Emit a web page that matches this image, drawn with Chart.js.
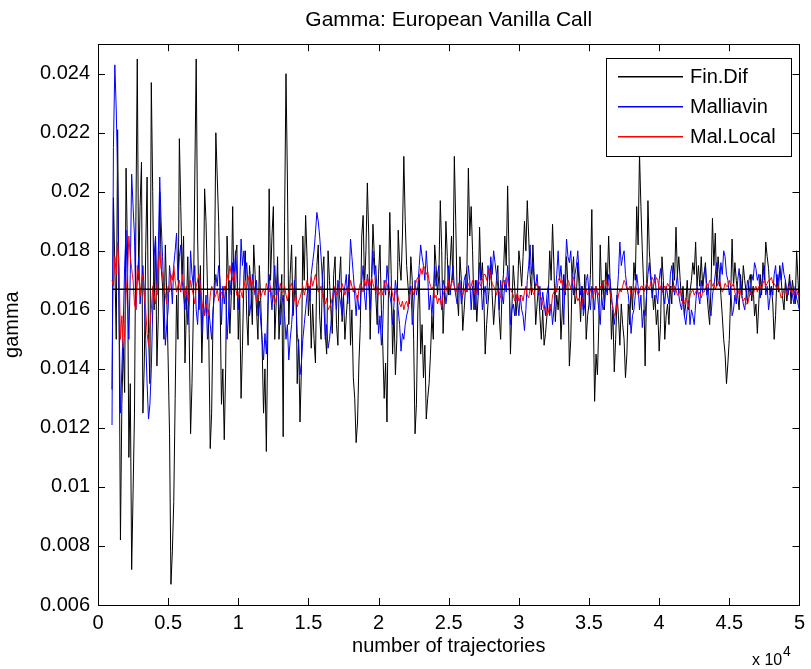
<!DOCTYPE html>
<html>
<head>
<meta charset="utf-8">
<title>Gamma: European Vanilla Call</title>
<script src="https://cdn.jsdelivr.net/npm/chart.js@4.4.1/dist/chart.umd.min.js"></script>
<style>
  html, body { margin: 0; padding: 0; background: #fff; }
  #wrap { width: 811px; height: 669px; }
</style>
</head>
<body>
<div id="wrap"><canvas id="gamma-chart" width="811" height="669"></canvas></div>
<script>
// sampling grid: number of trajectories
const trajStart = 1000;
const trajStep = 100;
const xTickStep = 5000;   // 0.5 x 10^4
const yTickStep = 0.002;
const exactGamma = 0.0167;
const seriesNames = ["Fin.Dif", "Malliavin", "Mal.Local"];
const seriesColors = ["#000000", "#0000ff", "#ff0000"];

const finDif = [
  0.0133,0.0198,0.0175,0.0150,0.0221,0.0160,0.0082,0.0128,0.0148,0.0132,0.0208,0.0180,0.0110,0.0135,0.0072,0.0098,0.0125,0.0190,0.0245,0.0170,
  0.0195,0.0210,0.0125,0.0142,0.0180,0.0205,0.0152,0.0135,0.0237,0.0200,0.0160,0.0185,0.0141,0.0158,0.0200,0.0175,0.0168,0.0150,0.0182,0.0165,
  0.0143,0.0118,0.0067,0.0078,0.0095,0.0130,0.0165,0.0150,0.0218,0.0195,0.0172,0.0185,0.0142,0.0160,0.0178,0.0152,0.0118,0.0135,0.0160,0.0205,
  0.0245,0.0185,0.0160,0.0175,0.0142,0.0160,0.0201,0.0190,0.0168,0.0150,0.0113,0.0125,0.0158,0.0170,0.0220,0.0205,0.0190,0.0165,0.0128,0.0140,
  0.0116,0.0140,0.0185,0.0170,0.0152,0.0165,0.0195,0.0160,0.0178,0.0182,0.0150,0.0165,0.0130,0.0148,0.0172,0.0180,0.0158,0.0148,0.0175,0.0168,
  0.0155,0.0182,0.0172,0.0160,0.0150,0.0175,0.0163,0.0148,0.0125,0.0140,0.0112,0.0150,0.0201,0.0170,0.0185,0.0195,0.0150,0.0162,0.0178,0.0150,
  0.0160,0.0172,0.0117,0.0190,0.0240,0.0205,0.0155,0.0172,0.0182,0.0158,0.0165,0.0178,0.0135,0.0150,0.0122,0.0140,0.0185,0.0170,0.0192,0.0178,
  0.0158,0.0168,0.0147,0.0162,0.0150,0.0142,0.0175,0.0182,0.0158,0.0150,0.0172,0.0178,0.0152,0.0145,0.0180,0.0170,0.0160,0.0152,0.0172,0.0178,
  0.0155,0.0148,0.0170,0.0178,0.0156,0.0165,0.0150,0.0158,0.0165,0.0172,0.0148,0.0160,0.0137,0.0130,0.0115,0.0122,0.0142,0.0155,0.0185,0.0192,
  0.0168,0.0180,0.0203,0.0185,0.0150,0.0170,0.0189,0.0178,0.0165,0.0155,0.0172,0.0182,0.0160,0.0148,0.0130,0.0142,0.0122,0.0165,0.0193,0.0172,
  0.0145,0.0160,0.0138,0.0150,0.0187,0.0176,0.0170,0.0185,0.0212,0.0190,0.0175,0.0168,0.0162,0.0178,0.0170,0.0150,0.0118,0.0128,0.0160,0.0172,
  0.0145,0.0155,0.0137,0.0148,0.0123,0.0130,0.0135,0.0145,0.0158,0.0150,0.0182,0.0175,0.0165,0.0172,0.0197,0.0180,0.0152,0.0165,0.0190,0.0178,
  0.0165,0.0175,0.0185,0.0170,0.0212,0.0190,0.0165,0.0158,0.0178,0.0170,0.0153,0.0160,0.0168,0.0175,0.0208,0.0185,0.0195,0.0180,0.0160,0.0170,
  0.0156,0.0165,0.0188,0.0170,0.0176,0.0165,0.0145,0.0155,0.0162,0.0168,0.0175,0.0165,0.0155,0.0162,0.0170,0.0175,0.0158,0.0150,0.0166,0.0172,
  0.0185,0.0175,0.0202,0.0178,0.0145,0.0160,0.0175,0.0168,0.0158,0.0165,0.0180,0.0175,0.0168,0.0178,0.0190,0.0180,0.0197,0.0185,0.0172,0.0165,
  0.0182,0.0170,0.0155,0.0162,0.0168,0.0158,0.0150,0.0160,0.0148,0.0152,0.0158,0.0165,0.0180,0.0170,0.0189,0.0175,0.0156,0.0165,0.0160,0.0168,
  0.0150,0.0160,0.0172,0.0165,0.0178,0.0168,0.0141,0.0150,0.0172,0.0178,0.0162,0.0165,0.0176,0.0168,0.0156,0.0168,0.0160,0.0172,0.0150,0.0158,
  0.0162,0.0172,0.0194,0.0160,0.0129,0.0145,0.0138,0.0155,0.0182,0.0165,0.0170,0.0160,0.0176,0.0168,0.0185,0.0170,0.0150,0.0160,0.0139,0.0150,
  0.0165,0.0158,0.0148,0.0162,0.0155,0.0150,0.0137,0.0145,0.0162,0.0155,0.0168,0.0160,0.0176,0.0170,0.0195,0.0182,0.0213,0.0195,0.0180,0.0168,
  0.0141,0.0165,0.0197,0.0180,0.0172,0.0168,0.0160,0.0165,0.0155,0.0160,0.0146,0.0155,0.0178,0.0170,0.0150,0.0158,0.0162,0.0155,0.0168,0.0162,
  0.0176,0.0170,0.0188,0.0172,0.0178,0.0170,0.0163,0.0168,0.0158,0.0162,0.0170,0.0160,0.0166,0.0170,0.0176,0.0172,0.0183,0.0168,0.0175,0.0168,
  0.0178,0.0168,0.0172,0.0176,0.0166,0.0160,0.0155,0.0168,0.0191,0.0175,0.0186,0.0168,0.0178,0.0172,0.0165,0.0158,0.0150,0.0145,0.0135,0.0142,
  0.0150,0.0165,0.0184,0.0168,0.0176,0.0170,0.0165,0.0160,0.0172,0.0165,0.0175,0.0170,0.0166,0.0162,0.0170,0.0172,0.0163,0.0168,0.0158,0.0162,
  0.0152,0.0162,0.0172,0.0165,0.0176,0.0170,0.0183,0.0178,0.0174,0.0165,0.0168,0.0162,0.0150,0.0158,0.0172,0.0166,0.0175,0.0170,0.0164,0.0160,
  0.0170,0.0163,0.0167,0.0172,0.0162,0.0170,0.0166,0.0162,0.0180,0.0170,0.0160
];

const malliavin = [
  0.0121,0.0215,0.0243,0.0228,0.0205,0.0160,0.0125,0.0140,0.0155,0.0175,0.0187,0.0165,0.0150,0.0172,0.0206,0.0195,0.0185,0.0160,0.0170,0.0178,
  0.0162,0.0168,0.0175,0.0165,0.0150,0.0135,0.0123,0.0128,0.0140,0.0160,0.0178,0.0185,0.0165,0.0180,0.0205,0.0190,0.0178,0.0165,0.0148,0.0155,
  0.0160,0.0175,0.0170,0.0162,0.0175,0.0180,0.0186,0.0170,0.0178,0.0182,0.0170,0.0165,0.0160,0.0168,0.0155,0.0162,0.0180,0.0172,0.0168,0.0175,
  0.0160,0.0155,0.0165,0.0170,0.0152,0.0162,0.0158,0.0165,0.0150,0.0160,0.0155,0.0150,0.0160,0.0165,0.0172,0.0168,0.0175,0.0170,0.0155,0.0168,
  0.0162,0.0168,0.0150,0.0158,0.0170,0.0165,0.0176,0.0170,0.0180,0.0172,0.0160,0.0168,0.0184,0.0175,0.0180,0.0170,0.0176,0.0168,0.0158,0.0162,
  0.0172,0.0168,0.0165,0.0170,0.0158,0.0163,0.0156,0.0150,0.0143,0.0152,0.0145,0.0160,0.0172,0.0166,0.0160,0.0168,0.0175,0.0165,0.0172,0.0162,
  0.0155,0.0162,0.0165,0.0158,0.0150,0.0155,0.0143,0.0150,0.0155,0.0162,0.0170,0.0165,0.0152,0.0148,0.0138,0.0142,0.0150,0.0155,0.0160,0.0165,
  0.0168,0.0163,0.0172,0.0176,0.0180,0.0186,0.0193,0.0190,0.0185,0.0178,0.0170,0.0162,0.0150,0.0155,0.0147,0.0150,0.0155,0.0162,0.0168,0.0165,
  0.0160,0.0170,0.0165,0.0162,0.0158,0.0165,0.0168,0.0172,0.0162,0.0170,0.0184,0.0178,0.0172,0.0165,0.0158,0.0165,0.0160,0.0162,0.0170,0.0175,
  0.0165,0.0160,0.0172,0.0168,0.0160,0.0170,0.0180,0.0172,0.0175,0.0165,0.0152,0.0158,0.0148,0.0155,0.0170,0.0165,0.0175,0.0170,0.0165,0.0162,
  0.0155,0.0162,0.0170,0.0166,0.0160,0.0155,0.0146,0.0152,0.0150,0.0155,0.0158,0.0160,0.0165,0.0168,0.0155,0.0160,0.0170,0.0165,0.0168,0.0175,
  0.0182,0.0178,0.0175,0.0170,0.0180,0.0172,0.0160,0.0165,0.0158,0.0165,0.0175,0.0168,0.0172,0.0175,0.0165,0.0160,0.0170,0.0168,0.0162,0.0166,
  0.0175,0.0165,0.0170,0.0175,0.0168,0.0165,0.0162,0.0168,0.0170,0.0162,0.0165,0.0170,0.0172,0.0166,0.0175,0.0170,0.0160,0.0168,0.0165,0.0160,
  0.0170,0.0165,0.0176,0.0170,0.0160,0.0165,0.0168,0.0162,0.0175,0.0170,0.0178,0.0172,0.0180,0.0176,0.0172,0.0168,0.0160,0.0170,0.0165,0.0162,
  0.0170,0.0166,0.0175,0.0168,0.0155,0.0160,0.0162,0.0158,0.0165,0.0163,0.0158,0.0165,0.0160,0.0158,0.0153,0.0160,0.0170,0.0175,0.0182,0.0172,
  0.0176,0.0170,0.0168,0.0172,0.0165,0.0168,0.0160,0.0166,0.0162,0.0158,0.0165,0.0168,0.0158,0.0162,0.0155,0.0160,0.0165,0.0172,0.0180,0.0170,
  0.0175,0.0168,0.0155,0.0172,0.0184,0.0178,0.0176,0.0180,0.0170,0.0165,0.0172,0.0175,0.0180,0.0172,0.0165,0.0168,0.0158,0.0162,0.0170,0.0172,
  0.0165,0.0160,0.0168,0.0165,0.0160,0.0168,0.0165,0.0160,0.0155,0.0165,0.0160,0.0162,0.0168,0.0165,0.0172,0.0170,0.0165,0.0160,0.0155,0.0160,
  0.0165,0.0172,0.0183,0.0175,0.0178,0.0180,0.0172,0.0168,0.0165,0.0160,0.0152,0.0158,0.0160,0.0165,0.0172,0.0168,0.0160,0.0165,0.0154,0.0160,
  0.0158,0.0165,0.0172,0.0176,0.0170,0.0164,0.0168,0.0172,0.0165,0.0162,0.0170,0.0174,0.0168,0.0165,0.0162,0.0168,0.0165,0.0162,0.0172,0.0175,
  0.0170,0.0165,0.0168,0.0172,0.0165,0.0162,0.0160,0.0165,0.0158,0.0155,0.0160,0.0163,0.0155,0.0160,0.0158,0.0155,0.0162,0.0168,0.0165,0.0162,
  0.0170,0.0166,0.0172,0.0175,0.0165,0.0168,0.0160,0.0158,0.0165,0.0168,0.0172,0.0176,0.0170,0.0168,0.0176,0.0172,0.0180,0.0178,0.0172,0.0170,
  0.0165,0.0168,0.0158,0.0160,0.0165,0.0162,0.0170,0.0174,0.0168,0.0165,0.0162,0.0160,0.0165,0.0170,0.0168,0.0165,0.0172,0.0170,0.0176,0.0174,
  0.0170,0.0172,0.0164,0.0168,0.0172,0.0175,0.0165,0.0168,0.0160,0.0164,0.0168,0.0165,0.0172,0.0175,0.0168,0.0170,0.0174,0.0170,0.0176,0.0172,
  0.0170,0.0166,0.0165,0.0170,0.0168,0.0165,0.0162,0.0168,0.0164,0.0162,0.0160
];

const malLocal = [
  0.0170,0.0168,0.0178,0.0172,0.0183,0.0175,0.0150,0.0158,0.0147,0.0152,0.0165,0.0172,0.0185,0.0178,0.0174,0.0170,0.0162,0.0160,0.0175,0.0172,
  0.0165,0.0170,0.0172,0.0165,0.0160,0.0152,0.0148,0.0155,0.0160,0.0168,0.0165,0.0162,0.0168,0.0175,0.0180,0.0174,0.0172,0.0168,0.0165,0.0162,
  0.0168,0.0166,0.0172,0.0170,0.0175,0.0170,0.0166,0.0168,0.0170,0.0166,0.0172,0.0168,0.0165,0.0168,0.0163,0.0166,0.0170,0.0167,0.0165,0.0162,
  0.0168,0.0170,0.0172,0.0168,0.0163,0.0160,0.0158,0.0162,0.0160,0.0158,0.0165,0.0168,0.0167,0.0164,0.0165,0.0167,0.0163,0.0166,0.0166,0.0164,
  0.0168,0.0166,0.0172,0.0170,0.0175,0.0172,0.0170,0.0173,0.0168,0.0165,0.0164,0.0167,0.0166,0.0164,0.0170,0.0167,0.0168,0.0170,0.0172,0.0168,
  0.0170,0.0168,0.0166,0.0163,0.0165,0.0167,0.0164,0.0166,0.0167,0.0165,0.0169,0.0167,0.0166,0.0168,0.0164,0.0165,0.0162,0.0164,0.0166,0.0166,
  0.0169,0.0166,0.0166,0.0168,0.0165,0.0163,0.0166,0.0168,0.0169,0.0166,0.0163,0.0165,0.0161,0.0163,0.0164,0.0166,0.0168,0.0165,0.0167,0.0170,
  0.0168,0.0167,0.0171,0.0168,0.0170,0.0172,0.0169,0.0166,0.0167,0.0168,0.0165,0.0163,0.0162,0.0164,0.0160,0.0161,0.0162,0.0164,0.0166,0.0168,
  0.0165,0.0167,0.0168,0.0166,0.0169,0.0167,0.0165,0.0167,0.0168,0.0166,0.0170,0.0168,0.0166,0.0168,0.0165,0.0163,0.0167,0.0169,0.0168,0.0166,
  0.0170,0.0168,0.0171,0.0169,0.0168,0.0171,0.0169,0.0167,0.0166,0.0168,0.0165,0.0166,0.0167,0.0165,0.0168,0.0170,0.0169,0.0166,0.0167,0.0168,
  0.0165,0.0163,0.0166,0.0167,0.0164,0.0162,0.0161,0.0163,0.0160,0.0162,0.0163,0.0161,0.0165,0.0166,0.0167,0.0165,0.0168,0.0170,0.0171,0.0170,
  0.0174,0.0172,0.0175,0.0174,0.0172,0.0173,0.0170,0.0168,0.0167,0.0168,0.0164,0.0165,0.0162,0.0164,0.0163,0.0161,0.0165,0.0167,0.0168,0.0166,
  0.0170,0.0167,0.0169,0.0170,0.0168,0.0166,0.0167,0.0169,0.0168,0.0166,0.0165,0.0167,0.0166,0.0167,0.0169,0.0167,0.0168,0.0170,0.0166,0.0165,
  0.0167,0.0170,0.0169,0.0168,0.0170,0.0172,0.0172,0.0170,0.0173,0.0174,0.0171,0.0169,0.0168,0.0167,0.0165,0.0167,0.0166,0.0164,0.0168,0.0170,
  0.0169,0.0171,0.0170,0.0168,0.0167,0.0166,0.0165,0.0163,0.0164,0.0166,0.0163,0.0164,0.0165,0.0163,0.0166,0.0168,0.0165,0.0164,0.0167,0.0168,
  0.0166,0.0165,0.0168,0.0169,0.0167,0.0165,0.0164,0.0162,0.0160,0.0161,0.0158,0.0159,0.0162,0.0160,0.0165,0.0166,0.0168,0.0166,0.0170,0.0171,
  0.0169,0.0170,0.0167,0.0166,0.0168,0.0170,0.0169,0.0167,0.0170,0.0171,0.0168,0.0165,0.0163,0.0164,0.0161,0.0162,0.0165,0.0167,0.0167,0.0165,
  0.0166,0.0167,0.0165,0.0164,0.0167,0.0168,0.0166,0.0165,0.0168,0.0167,0.0169,0.0170,0.0170,0.0168,0.0169,0.0166,0.0163,0.0161,0.0158,0.0159,
  0.0162,0.0165,0.0167,0.0166,0.0168,0.0170,0.0169,0.0167,0.0167,0.0168,0.0165,0.0164,0.0166,0.0168,0.0167,0.0165,0.0166,0.0168,0.0168,0.0166,
  0.0167,0.0169,0.0168,0.0167,0.0169,0.0171,0.0170,0.0169,0.0171,0.0170,0.0167,0.0168,0.0166,0.0167,0.0168,0.0167,0.0169,0.0168,0.0167,0.0168,
  0.0166,0.0168,0.0167,0.0165,0.0165,0.0167,0.0164,0.0162,0.0162,0.0164,0.0163,0.0161,0.0165,0.0166,0.0167,0.0165,0.0166,0.0167,0.0165,0.0166,
  0.0164,0.0166,0.0166,0.0167,0.0169,0.0168,0.0170,0.0170,0.0168,0.0169,0.0167,0.0168,0.0169,0.0170,0.0168,0.0166,0.0167,0.0169,0.0168,0.0168,
  0.0170,0.0168,0.0168,0.0169,0.0166,0.0164,0.0165,0.0167,0.0166,0.0164,0.0163,0.0164,0.0162,0.0162,0.0164,0.0166,0.0165,0.0165,0.0167,0.0168,
  0.0166,0.0168,0.0168,0.0167,0.0169,0.0170,0.0168,0.0169,0.0170,0.0170,0.0171,0.0169,0.0169,0.0168,0.0167,0.0168,0.0166,0.0164,0.0165,0.0167,
  0.0167,0.0165,0.0168,0.0167,0.0166,0.0167,0.0165,0.0166,0.0167,0.0165,0.0166
];

const FONT = "'Liberation Sans', Arial, sans-serif";
const toPoints = arr => arr.map((v, i) => ({ x: trajStart + i * trajStep, y: v }));
const lastTraj = trajStart + (finDif.length - 1) * trajStep;

Chart.defaults.color = "#000";
Chart.defaults.font.family = FONT;
Chart.defaults.font.size = 20;

// MATLAB-like box, inward ticks, legend and exponent label
const matlabAxes = {
  id: "matlabAxes",
  afterDraw(chart) {
    const { ctx, chartArea: a, scales } = chart;
    const tl = 7;
    ctx.save();
    ctx.strokeStyle = "#000";
    ctx.lineWidth = 1;
    ctx.strokeRect(Math.round(a.left) + 0.5, Math.round(a.top) + 0.5, Math.round(a.right - a.left), Math.round(a.bottom - a.top));
    ctx.beginPath();
    scales.x.ticks.forEach(t => {
      const px = Math.round(scales.x.getPixelForValue(t.value)) + 0.5;
      ctx.moveTo(px, a.bottom); ctx.lineTo(px, a.bottom - tl);
      ctx.moveTo(px, a.top); ctx.lineTo(px, a.top + tl);
    });
    scales.y.ticks.forEach(t => {
      const py = Math.round(scales.y.getPixelForValue(t.value)) + 0.5;
      ctx.moveTo(a.left, py); ctx.lineTo(a.left + tl, py);
      ctx.moveTo(a.right, py); ctx.lineTo(a.right - tl, py);
    });
    ctx.stroke();

    // legend box
    const lx = 606, ly = 58, lw = 185, lh = 98;
    ctx.fillStyle = "#fff";
    ctx.fillRect(lx, ly, lw, lh);
    ctx.strokeStyle = "#000";
    ctx.strokeRect(lx + 0.5, ly + 0.5, lw, lh);
    ctx.font = "20px " + FONT;
    ctx.textBaseline = "middle";
    ctx.textAlign = "left";
    seriesNames.forEach((name, k) => {
      const ry = 76 + k * 30;
      ctx.fillStyle = seriesColors[k];
      ctx.fillRect(618, ry, 65, 1.5);
      ctx.fillStyle = "#000";
      ctx.fillText(name, 690, ry + 1);
    });

    // x 10^4
    ctx.textBaseline = "alphabetic";
    ctx.font = "16px " + FONT;
    ctx.fillText("x 10", 752, 665);
    ctx.font = "14px " + FONT;
    ctx.fillText("4", 783, 656);
    ctx.restore();
  }
};

const datasets = [
  { label: seriesNames[0], data: toPoints(finDif), borderColor: seriesColors[0], order: 3 },
  { label: seriesNames[1], data: toPoints(malliavin), borderColor: seriesColors[1], order: 2 },
  { label: seriesNames[2], data: toPoints(malLocal), borderColor: seriesColors[2], order: 1 },
  { label: "exact", data: [{ x: trajStart, y: exactGamma }, { x: lastTraj, y: exactGamma }], borderColor: "#000", borderWidth: 1.6, order: 0 }
].map(d => Object.assign({ borderWidth: 1, pointRadius: 0, tension: 0, fill: false }, d));

new Chart(document.getElementById("gamma-chart"), {
  type: "line",
  data: { datasets },
  options: {
    responsive: false,
    animation: false,
    layout: { padding: { left: 0, top: 0, right: 6, bottom: 0 } },
    plugins: {
      legend: { display: false },
      tooltip: { enabled: false },
      title: {
        display: true,
        text: "Gamma: European Vanilla Call",
        fullSize: false,
        font: { size: 21, weight: "normal" },
        padding: { top: 8, bottom: 11 }
      }
    },
    scales: {
      x: {
        type: "linear",
        min: 0,
        max: 50000,
        grid: { display: false, drawTicks: false },
        border: { display: false },
        ticks: { stepSize: xTickStep, autoSkip: false, maxRotation: 0, padding: 6, callback: v => String(v / 1e4) },
        title: { display: true, text: "number of trajectories", padding: { top: 0, bottom: 11 } },
        afterFit: s => { s.height = 64; }
      },
      y: {
        min: 0.006,
        max: 0.025,
        grid: { display: false, drawTicks: false },
        border: { display: false },
        ticks: { stepSize: yTickStep, includeBounds: false, autoSkip: false, padding: 8, callback: v => String(+v.toFixed(3)) },
        title: { display: true, text: "gamma", padding: { top: 0, bottom: 0 } },
        afterFit: s => { s.width = 98; }
      }
    }
  },
  plugins: [matlabAxes]
});
</script>
</body>
</html>
